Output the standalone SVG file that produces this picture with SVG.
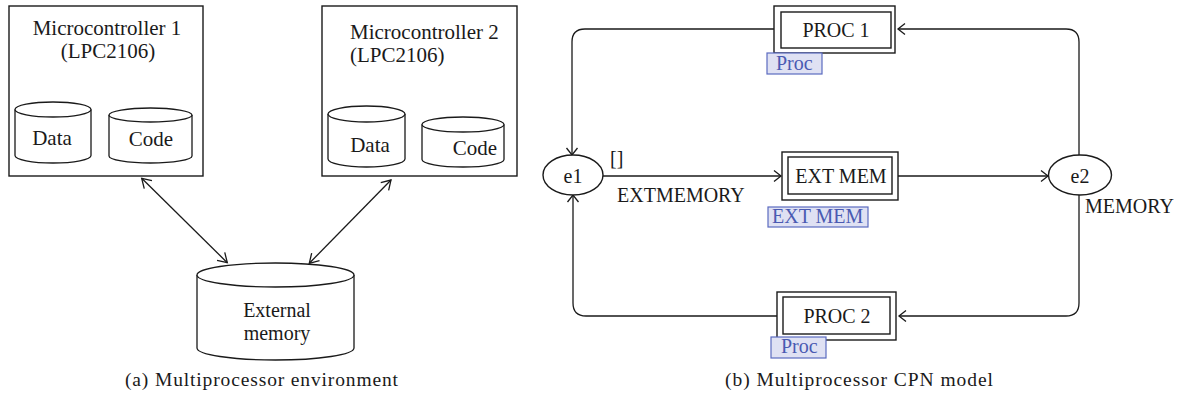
<svg xmlns="http://www.w3.org/2000/svg" width="1181" height="402" viewBox="0 0 1181 402">
<defs>
<style>
text{font-family:"Liberation Serif","Times New Roman",serif;fill:#1a1a1a}
.t21{font-size:21px}
.t20{font-size:20px}
.cap{font-size:19.5px}
.box{fill:#fff;stroke:#1a1a1a;stroke-width:1.4}
.cyl{fill:#fff;stroke:#1a1a1a;stroke-width:1.3}
.ln{fill:none;stroke:#1a1a1a;stroke-width:1.3}
.lbl{fill:#dfe1f3;stroke:#5b6bc0;stroke-width:1.2}
.lt{font-size:20px;fill:#4a5ab2}
</style>
<marker id="ah" markerUnits="userSpaceOnUse" markerWidth="14" markerHeight="14" viewBox="-11 -7 14 14" refX="0" refY="0" orient="auto-start-reverse">
<path d="M-9,-5.5 L0,0 L-9,5.5" fill="none" stroke="#1a1a1a" stroke-width="1.3"/>
</marker>
<marker id="ch" markerUnits="userSpaceOnUse" markerWidth="12" markerHeight="14" viewBox="-9 -7 12 14" refX="0" refY="0" orient="auto">
<path d="M-7,-5.5 L0,0 L-7,5.5" fill="none" stroke="#1a1a1a" stroke-width="1.3"/>
</marker>
</defs>

<g id="mc1">
<rect class="box" x="9" y="6" width="194" height="170"/>
<text class="t21" x="107" y="35" text-anchor="middle">Microcontroller 1</text>
<text class="t21" x="108" y="58" text-anchor="middle">(LPC2106)</text>
</g>
<g id="data1">
<path class="cyl" d="M15,109.5 V155.5 A38,7.5 0 0 0 91,155.5 V109.5"/>
<ellipse class="cyl" cx="53" cy="109.5" rx="38" ry="7.5"/>
<text class="t21" x="52" y="145" text-anchor="middle">Data</text>
</g>
<g id="code1">
<path class="cyl" d="M109,115 V156 A41.5,7 0 0 0 192,156 V115"/>
<ellipse class="cyl" cx="150.5" cy="115" rx="41.5" ry="7"/>
<text class="t21" x="151" y="146" text-anchor="middle">Code</text>
</g>

<g id="mc2">
<rect class="box" x="322" y="6" width="195" height="170"/>
<text class="t21" x="350" y="39">Microcontroller 2</text>
<text class="t21" x="350" y="62">(LPC2106)</text>
</g>
<g id="data2">
<path class="cyl" d="M328,114 V159 A38.5,8 0 0 0 405,159 V114"/>
<ellipse class="cyl" cx="366.5" cy="114" rx="38.5" ry="8"/>
<text class="t21" x="370" y="152" text-anchor="middle">Data</text>
</g>
<g id="code2">
<path class="cyl" d="M422,124.5 V159.5 A41,7.5 0 0 0 504,159.5 V124.5"/>
<ellipse class="cyl" cx="463" cy="124.5" rx="41" ry="7.5"/>
<text class="t21" x="475" y="155" text-anchor="middle">Code</text>
</g>

<g id="extmem">
<path class="cyl" d="M197,275 V348 A78.5,12 0 0 0 354,348 V275"/>
<ellipse class="cyl" cx="275.5" cy="275" rx="78.5" ry="12"/>
<text class="t20" x="277" y="317" text-anchor="middle">External</text>
<text class="t20" x="277" y="340" text-anchor="middle">memory</text>
</g>

<g id="connectors">
<line class="ln" x1="141.7" y1="178.3" x2="227.3" y2="262.7" marker-start="url(#ah)" marker-end="url(#ah)"/>
<line class="ln" x1="391" y1="180" x2="309.3" y2="263.3" marker-start="url(#ah)" marker-end="url(#ah)"/>
<path class="ln" d="M774,29 H585 Q572,29 572,42 V155" marker-end="url(#ch)"/>
<path class="ln" d="M1079,155 V42 Q1079,29 1066,29 H898" marker-end="url(#ch)"/>
<path class="ln" d="M777,316 H586 Q573,316 573,303 V195" marker-end="url(#ch)"/>
<path class="ln" d="M1079,195 V303 Q1079,316 1066,316 H899" marker-end="url(#ch)"/>
<line class="ln" x1="603" y1="176" x2="781" y2="176" marker-end="url(#ch)"/>
<line class="ln" x1="898" y1="176" x2="1048" y2="176" marker-end="url(#ch)"/>
</g>

<g id="e1">
<ellipse class="box" cx="573" cy="175" rx="30" ry="20"/>
<text class="t20" x="573" y="183" text-anchor="middle">e1</text>
</g>
<g id="e2">
<ellipse class="box" cx="1080" cy="175" rx="31.5" ry="20"/>
<text class="t20" x="1080" y="183" text-anchor="middle">e2</text>
</g>

<g id="proc1">
<rect class="box" x="774" y="6" width="121" height="47"/>
<rect class="box" x="781" y="12" width="110" height="36"/>
<text class="t20" x="836" y="37" text-anchor="middle">PROC 1</text>
<rect class="lbl" x="767" y="53" width="55" height="21"/>
<text class="lt" x="776" y="70">Proc</text>
</g>

<g id="extmemT">
<rect class="box" x="782" y="152" width="116" height="48"/>
<rect class="box" x="788" y="157" width="104" height="37"/>
<text class="t20" x="841" y="183" text-anchor="middle">EXT MEM</text>
<rect class="lbl" x="768" y="207" width="100" height="20"/>
<text class="lt" x="772" y="223">EXT MEM</text>
</g>

<g id="proc2">
<rect class="box" x="777" y="292" width="119" height="48"/>
<rect class="box" x="783" y="297" width="107" height="37"/>
<text class="t20" x="837" y="323" text-anchor="middle">PROC 2</text>
<rect class="lbl" x="771" y="337" width="55" height="21"/>
<text class="lt" x="781" y="353">Proc</text>
</g>

<g id="labels">
<text class="t20" x="610" y="165">[]</text>
<text class="t20" x="617" y="202">EXTMEMORY</text>
<text class="t20" x="1085" y="213">MEMORY</text>
</g>

<g id="captions">
<text class="cap" x="125" y="386" textLength="273" lengthAdjust="spacing">(a)  Multiprocessor environment</text>
<text class="cap" x="725" y="386" textLength="268" lengthAdjust="spacing">(b)  Multiprocessor CPN model</text>
</g>
</svg>
